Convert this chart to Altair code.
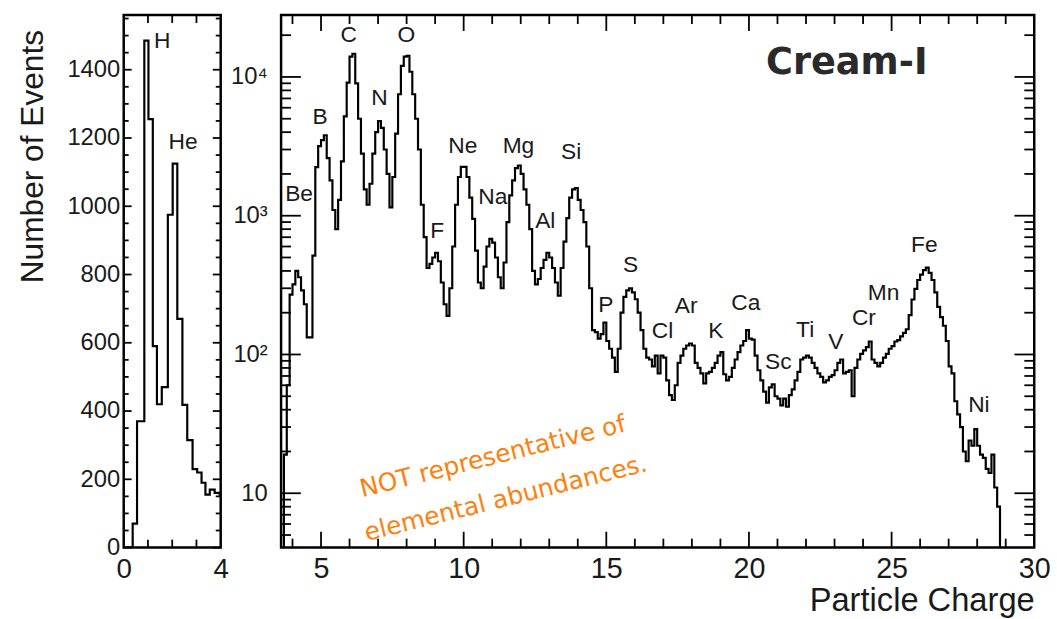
import altair as alt
import pandas as pd

FONT = "Liberation Sans"

# ---------------- light nuclei panel (linear counts) ----------------
light_edges = [0.0, 0.37, 0.55, 0.85, 1.02, 1.20, 1.37, 1.57, 1.82, 2.02, 2.21,
               2.42, 2.62, 2.84, 3.03, 3.21, 3.37, 3.55, 3.75, 3.96, 4.0]
light_counts = [0, 70, 370, 1485, 1255, 590, 420, 470, 975, 1125, 670,
                418, 315, 230, 220, 190, 155, 170, 160, 155]
light_names = ["H", "He"]
light_name_z = [1.59, 2.45]
light_name_n = [1484, 1188]

# ---------------- heavy nuclei panel (log counts), 0.1-wide charge bins from Z = 3.6 ----------------
heavy_start = 3.6
heavy_width = 0.1
counts_be_to_o = [1, 19, 60, 270, 320, 400, 360, 290, 230, 133, 133, 515, 2240, 3170, 3500,
                  3800, 2600, 1800, 1100, 800, 1300, 2460, 5200, 9100, 14000, 14700, 9000,
                  5000, 2800, 1550, 1200, 1700, 2800, 4000, 4800, 4300, 3000, 2000, 1150,
                  1900, 3900, 7500, 12000, 14000]
counts_o_to_mg = [14200, 10900, 7500, 5000, 3000, 1200, 700, 420, 450, 500,
                  540, 470, 330, 230, 190, 300, 600, 1200, 1900, 2250,
                  2250, 1900, 1350, 950, 560, 330, 300, 430, 600, 680,
                  640, 500, 360, 300, 460, 900, 1400, 1800, 2200, 2300]
counts_mg_to_s = [2000, 1550, 1200, 800, 400, 320, 350, 420, 480, 540,
                  500, 420, 330, 265, 420, 650, 960, 1350, 1550, 1580,
                  1300, 1100, 900, 600, 300, 150, 145, 130, 140, 170,
                  125, 110, 95, 75, 110, 200, 260, 290, 300, 280]
counts_s_to_ca = [250, 200, 150, 110, 95, 92, 82, 98, 73, 98,
                  95, 65, 51, 47, 60, 87, 98, 110, 116, 120,
                  116, 87, 80, 73, 62, 73, 75, 80, 87, 98,
                  104, 72, 65, 69, 80, 92, 104, 116, 125, 150]
counts_ca_to_cr = [130, 128, 98, 77, 65, 54, 45, 58, 61, 50,
                   48, 43, 48, 42, 51, 56, 65, 75, 92, 95,
                   98, 95, 87, 80, 73, 69, 63, 65, 69, 71,
                   77, 87, 92, 73, 75, 77, 50, 80, 92, 101]
counts_cr_to_ni = [107, 113, 124, 92, 87, 82, 87, 95, 101, 110,
                   115, 124, 127, 135, 143, 152, 192, 249, 297, 344,
                   376, 405, 423, 387, 344, 280, 220, 186, 161, 125,
                   82, 73, 46, 37, 30, 20, 17, 24, 22, 29,
                   22, 19, 18, 15, 14, 19, 11, 8, 1]

heavy_names = ["Be", "B", "C", "N", "O", "F", "Ne", "Na", "Mg", "Al", "Si", "P", "S",
               "Cl", "Ar", "K", "Ca", "Sc", "Ti", "V", "Cr", "Mn", "Fe", "Ni"]
heavy_name_z = [4.23, 4.97, 5.97, 7.05, 7.99, 9.07, 9.97, 11.02, 11.92, 12.86, 13.77, 14.98,
                15.85, 16.97, 17.80, 18.84, 19.89, 21.03, 21.97, 23.05, 24.03, 24.72, 26.15, 28.06]
heavy_name_n = [1435, 5180, 19950, 7100, 19950, 769, 3160, 1370, 3160, 921, 2865, 228,
                439, 148, 224, 148, 235, 88, 151, 122, 184, 277, 611, 43]

# ---------------- helpers ----------------
heavy_counts = (counts_be_to_o + counts_o_to_mg + counts_mg_to_s +
                counts_s_to_ca + counts_ca_to_cr + counts_cr_to_ni)
heavy_edges = [round(heavy_start + heavy_width * i, 1) for i in range(len(heavy_counts) + 1)]


def step_frame(edges, counts):
    # left edge of every bin plus the closing right edge
    return pd.DataFrame({"z": edges, "n": counts + [counts[-1]]})


def tick_layers(values, length, enc, orient, width, height, sw=1.8):
    df = pd.DataFrame({"v": values})
    base = alt.Chart(df)
    rule = dict(color="black", strokeWidth=sw)
    if orient == "x":
        return [
            base.mark_rule(**rule).encode(x=enc("v"), y=alt.value(height), y2=alt.value(height - length)),
            base.mark_rule(**rule).encode(x=enc("v"), y=alt.value(0), y2=alt.value(length)),
        ]
    return [
        base.mark_rule(**rule).encode(y=enc("v"), x=alt.value(0), x2=alt.value(length)),
        base.mark_rule(**rule).encode(y=enc("v"), x=alt.value(width), x2=alt.value(width - length)),
    ]


# ---------------- left panel ----------------
LW, LH = 98, 538
lx_scale = alt.Scale(domain=[0, 4], nice=False, zero=False)
ly_scale = alt.Scale(domain=[0, 1560], nice=False)
lx_axis = alt.Axis(values=[0, 4], labelFontSize=28, labelFlush=False, labelPadding=8, title=None)
ly_axis = alt.Axis(values=list(range(0, 1401, 200)), format="d", labelFontSize=24, labelPadding=4,
                   title=None)


def lx(field):
    return alt.X(f"{field}:Q", scale=lx_scale, axis=lx_axis)


def ly(field):
    return alt.Y(f"{field}:Q", scale=ly_scale, axis=ly_axis)


left_hist = alt.Chart(step_frame(light_edges, light_counts)).mark_line(
    interpolate="step-after", color="black", strokeWidth=2.2, clip=True
).encode(x=lx("z"), y=ly("n"))

left_names = alt.Chart(pd.DataFrame({"z": light_name_z, "n": light_name_n, "t": light_names})).mark_text(
    font=FONT, fontSize=23, color="#1a1a1a"
).encode(x=lx("z"), y=ly("n"), text="t:N")

left_title = alt.Chart(pd.DataFrame({"t": ["Number of Events"]})).mark_text(
    font=FONT, fontSize=32, angle=270, color="#1a1a1a"
).encode(x=alt.value(-92), y=alt.value(143), text="t:N")

left_ticks = (
    tick_layers(list(range(0, 1560, 200)), 8, ly, "y", LW, LH)
    + tick_layers([v for v in range(50, 1560, 50) if v % 200], 5, ly, "y", LW, LH)
    + tick_layers([1, 2, 3], 8, lx, "x", LW, LH)
)

left = alt.layer(left_hist, *left_ticks, left_names, left_title).properties(width=LW, height=LH)

# ---------------- right panel ----------------
RW, RH = 761, 538
rx_scale = alt.Scale(domain=[3.6, 30], nice=False, zero=False)
ry_scale = alt.Scale(type="log", domain=[4.06, 27900], nice=False)
rx_axis = alt.Axis(values=[5, 10, 15, 20, 25, 30], labelFontSize=29, labelFlush=False, labelPadding=7,
                   title="Particle Charge", titleFontSize=33, titleFontWeight="normal",
                   titleAnchor="end", titlePadding=2)
ry_axis = alt.Axis(values=[10, 100, 1000, 10000], labelFontSize=24, labelPadding=14, title=None,
                   labelExpr="datum.value == 10 ? '10' : datum.value == 100 ? '10\u00b2' : "
                             "datum.value == 1000 ? '10\u00b3' : '10\u2074'")


def rx(field):
    return alt.X(f"{field}:Q", scale=rx_scale, axis=rx_axis)


def ry(field):
    return alt.Y(f"{field}:Q", scale=ry_scale, axis=ry_axis)


right_hist = alt.Chart(step_frame(heavy_edges, heavy_counts)).mark_line(
    interpolate="step-after", color="black", strokeWidth=2.2, clip=True
).encode(x=rx("z"), y=ry("n"))

right_names = alt.Chart(pd.DataFrame({"z": heavy_name_z, "n": heavy_name_n, "t": heavy_names})).mark_text(
    font=FONT, fontSize=23, color="#1a1a1a"
).encode(x=rx("z"), y=ry("n"), text="t:N")

cream = alt.Chart(pd.DataFrame({"z": [23.43], "n": [12600], "t": ["Cream-I"]})).mark_text(
    font="DejaVu Sans", fontWeight="bold", fontSize=37, color="#2a2a2a"
).encode(x=rx("z"), y=ry("n"), text="t:N")

note = alt.Chart(pd.DataFrame({
    "z": [11.02, 11.47],
    "n": [18.4, 9.2],
    "t": ["NOT representative of", "elemental abundances."],
})).mark_text(font="DejaVu Sans", fontSize=25, angle=346, color="#ff7f0e").encode(
    x=rx("z"), y=ry("n"), text="t:N"
)

log_minor = [v * d for d in (1, 10, 100, 1000) for v in range(2, 10) if 4.06 <= v * d <= 27900] + [20000]
right_ticks = (
    tick_layers([10, 100, 1000, 10000], 20, ry, "y", RW, RH)
    + tick_layers(log_minor, 10, ry, "y", RW, RH)
    + tick_layers([5, 10, 15, 20, 25], 16, rx, "x", RW, RH)
    + tick_layers([v for v in range(4, 30) if v % 5], 9, rx, "x", RW, RH)
)

right = alt.layer(right_hist, *right_ticks, right_names, cream, note).properties(width=RW, height=RH)

chart = alt.hconcat(left, right, spacing=61, bounds="flush").properties(
    padding={"left": 15, "top": 9, "right": 5, "bottom": 5}
).configure_view(stroke="black", strokeWidth=2.5).configure_axis(
    labelFont=FONT, titleFont=FONT, labelColor="#1a1a1a", titleColor="#1a1a1a",
    grid=False, ticks=False, domain=False
)

chart.save("out.html", embed_options={"renderer": "svg", "actions": False})
